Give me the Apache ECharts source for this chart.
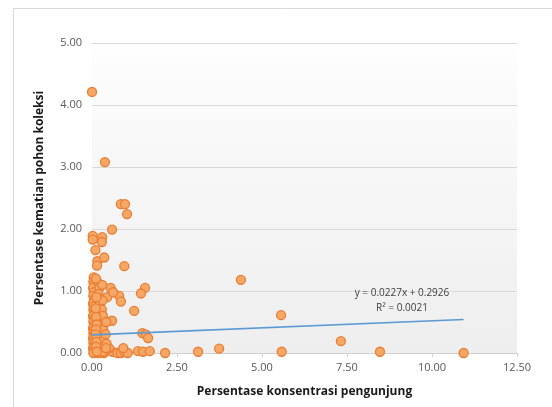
<!DOCTYPE html>
<html><head><meta charset="utf-8">
<script src="https://cdn.jsdelivr.net/npm/echarts@6/dist/echarts.min.js"></script>
<style>html,body{margin:0;padding:0;background:#fff}#c{width:552px;height:407px}</style>
</head><body><div id="c"></div>
<script>
const xTicks = [0, 2.5, 5, 7.5, 10, 12.5];
const yTicks = [0, 1, 2, 3, 4, 5];
const xTitle = 'Persentase konsentrasi pengunjung';
const yTitle = 'Persentase kematian pohon koleksi';
const trendSlope = 0.0227;
const trendIntercept = 0.2926;
const trendText1 = 'y = 0.0227x + 0.2926';
const trendText2 = 'R² = 0.0021';

// observed points
const pointsX = [
 0.00,0.38,0.85,0.97,1.03,0.59,0.02,0.02,0.30,0.29,0.10,0.16,0.15,0.36,0.95,4.38,5.56,5.58,7.32,8.47,10.93,3.12,3.74,2.15,1.56,1.44,0.80,0.85,1.24,0.59,1.48,1.58,1.65,0.45,0.55,0.62,
 0.35,0.60,0.75,0.85,0.95,1.05,1.35,1.50,1.70,0.92,0.50,0.42,
 0.05,0.04,0.06,0.03,0.05,0.04,0.06,0.03,0.05,0.04,0.06,0.03,0.05,0.04,0.06,0.03,0.05,0.04,0.06,0.03,0.05,0.04,0.06,0.03,0.05,0.04,
 0.20,0.22,0.19,0.21,0.23,0.20,0.18,0.22,0.21,0.19,0.23,0.20,0.22,0.18,0.21,0.20,0.19,
 0.30,0.31,0.29,0.32,0.30,0.33,0.28,0.31,0.30,0.32,
 0.12,0.13,0.11,0.12,0.14,0.12,0.11,0.13,0.12,0.14,
 0.42,0.40,0.43,0.41
];
const pointsY = [
 4.21,3.08,2.40,2.40,2.24,1.99,1.89,1.83,1.87,1.79,1.66,1.48,1.41,1.54,1.40,1.18,0.61,0.02,0.19,0.02,0.00,0.02,0.07,0.00,1.05,0.96,0.92,0.83,0.68,0.52,0.32,0.30,0.24,0.90,1.05,0.98,
 0.00,0.02,0.00,0.00,0.02,0.00,0.03,0.02,0.03,0.08,0.08,0.05,
 1.22,1.15,1.10,1.05,0.98,0.92,0.86,0.80,0.75,0.70,0.66,0.60,0.55,0.50,0.45,0.40,0.36,0.32,0.28,0.24,0.20,0.16,0.12,0.08,0.04,0.00,
 1.12,1.05,0.95,0.88,0.78,0.70,0.62,0.55,0.48,0.42,0.35,0.30,0.22,0.15,0.10,0.05,0.00,
 1.10,0.85,0.70,0.60,0.45,0.38,0.25,0.18,0.10,0.02,
 1.20,0.90,0.72,0.58,0.46,0.38,0.30,0.18,0.10,0.02,
 0.50,0.30,0.15,0.08
];
const trendX = [0, 10.93];

const scatterData = pointsX.map((x, i) => [x, pointsY[i]]);
const trendData = trendX.map(x => [x, trendSlope * x + trendIntercept]);

const chart = echarts.init(document.getElementById('c'), null, {renderer: 'canvas'});
const fontFam = '"Open Sans", "Noto Sans", sans-serif';
chart.setOption({
  animation: false,
  backgroundColor: '#fff',
  grid: {
    left: 92, right: 35, top: 43, bottom: 54, show: true, borderWidth: 0,
    backgroundColor: new echarts.graphic.LinearGradient(0, 0, 0, 1, [
      {offset: 0, color: '#ffffff'}, {offset: 0.08, color: '#fcfcfc'}, {offset: 1, color: '#eeeeee'}
    ])
  },
  xAxis: {
    type: 'value', min: 0, max: 12.5, interval: 2.5,
    name: xTitle, nameLocation: 'middle', nameGap: 33,
    nameTextStyle: {fontFamily: fontFam, fontWeight: 'bold', fontSize: 12, color: '#1a1a1a'},
    axisLine: {show: true, lineStyle: {color: '#d0d0d0', width: 1}},
    axisTick: {show: true, length: 4, lineStyle: {color: '#d0d0d0'}},
    splitLine: {show: false},
    axisLabel: {fontFamily: fontFam, fontSize: 11, color: '#595959', margin: 9,
      formatter: v => v.toFixed(2)}
  },
  yAxis: {
    type: 'value', min: 0, max: 5, interval: 1,
    name: yTitle, nameLocation: 'middle', nameGap: 46, nameRotate: 90,
    nameTextStyle: {fontFamily: fontFam, fontWeight: 'bold', fontSize: 12, color: '#1a1a1a'},
    axisLine: {show: false}, axisTick: {show: false},
    splitLine: {show: true, lineStyle: {color: '#d9d9d9', width: 1}},
    axisLabel: {fontFamily: fontFam, fontSize: 11, color: '#595959', margin: 10,
      formatter: v => v.toFixed(2)}
  },
  graphic: [
    {type: 'rect', left: 11, top: 6, shape: {width: 600, height: 500}, silent: true, z: -10,
     style: {fill: 'none', stroke: '#d9d9d9', lineWidth: 1}},
    {type: 'text', x: 402, y: 293, style: {text: trendText1, align: 'center', verticalAlign: 'middle',
     font: '10px "Open Sans", sans-serif', fill: '#404040'}, z: 10},
    {type: 'text', x: 402, y: 308, style: {text: trendText2, align: 'center', verticalAlign: 'middle',
     font: '10px "Open Sans", sans-serif', fill: '#404040'}, z: 10}
  ],
  series: [
    {
      type: 'scatter', data: scatterData, symbol: 'circle', symbolSize: 9,
      itemStyle: {color: '#F5A866', borderColor: '#EA7D33', borderWidth: 1.3, opacity: 1},
      z: 3
    },
    {
      type: 'line', data: trendData, symbol: 'none', z: 4,
      lineStyle: {color: '#5B9BD5', width: 1.6}
    }
  ]
});
</script></body></html>
